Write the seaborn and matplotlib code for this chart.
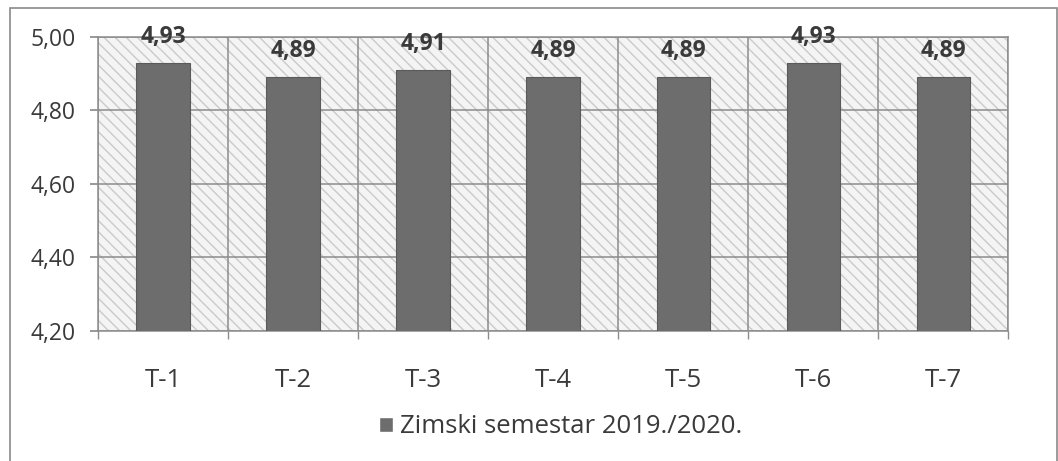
import matplotlib
matplotlib.use("Agg")
import matplotlib.pyplot as plt
from matplotlib.patches import Patch, Rectangle
from matplotlib.ticker import FixedLocator, FuncFormatter
import seaborn as sns

# data
categories = ["T-1", "T-2", "T-3", "T-4", "T-5", "T-6", "T-7"]
values = [4.93, 4.89, 4.91, 4.89, 4.89, 4.93, 4.89]
series_name = "Zimski semestar 2019./2020."
y_ticks = [4.20, 4.40, 4.60, 4.80, 5.00]

sns.set_theme(style="white")
plt.rcParams["font.family"] = ["Open Sans", "DejaVu Sans"]

bar_color = "#6d6d6d"
grid_color = "#8c8c8c"
text_color = "#3a3a3a"

fig = plt.figure(figsize=(10.58, 4.61), dpi=100)
ax = fig.add_axes([0.0926, 0.282, 0.8604, 0.638])

# hatched plot background
bg = Rectangle((0, 0), 1, 1, transform=ax.transAxes, facecolor="#f4f4f4",
               edgecolor="#cacaca", hatch="\\\\\\", lw=0, zorder=0)
ax.add_patch(bg)

sns.barplot(x=categories, y=values, color=bar_color, width=0.41,
            edgecolor="#5a5a5a", linewidth=0.8, saturation=1, ax=ax, zorder=3)

ax.set_ylim(4.20, 5.00)
ax.set_xlim(-0.5, len(categories) - 0.5)
ax.yaxis.set_major_locator(FixedLocator(y_ticks))
ax.yaxis.set_major_formatter(FuncFormatter(lambda v, p: f"{v:.2f}".replace(".", ",")))
ax.xaxis.set_minor_locator(FixedLocator([i - 0.5 for i in range(len(categories) + 1)]))

ax.grid(axis="y", which="major", color=grid_color, lw=1.1, zorder=1)
ax.grid(axis="x", which="minor", color=grid_color, lw=1.1, zorder=1)
ax.set_axisbelow(True)

for s in ax.spines.values():
    s.set_color(grid_color)
    s.set_linewidth(1.1)

ax.tick_params(axis="y", which="major", left=True, length=6, color=grid_color,
               labelsize=16.5, labelcolor=text_color, pad=10)
ax.tick_params(axis="x", which="major", bottom=False, labelsize=18.5,
               labelcolor=text_color, pad=21)
ax.tick_params(axis="x", which="minor", bottom=True, length=6, color=grid_color)
ax.set_xlabel("")
ax.set_ylabel("")

# value labels
for i, v in enumerate(values):
    ax.annotate(f"{v:.2f}".replace(".", ","), xy=(i, v), xytext=(0, 10),
                textcoords="offset points", ha="center", va="bottom",
                fontsize=16.5, fontweight="bold", color=text_color,
                annotation_clip=False, zorder=5)

# legend
fig.legend(handles=[Patch(facecolor=bar_color, label=series_name)],
           loc="center", bbox_to_anchor=(0.53, 0.074), frameon=False,
           fontsize=18.5, handlelength=0.55, handleheight=0.55, handletextpad=0.25,
           labelcolor=text_color)

# outer chart frame
fig.patches.append(Rectangle((0.0095, -0.01), 0.99, 0.993, transform=fig.transFigure,
                             fill=False, edgecolor="#8a8a8a", lw=1.2))

fig.savefig("out.png", dpi=100)
